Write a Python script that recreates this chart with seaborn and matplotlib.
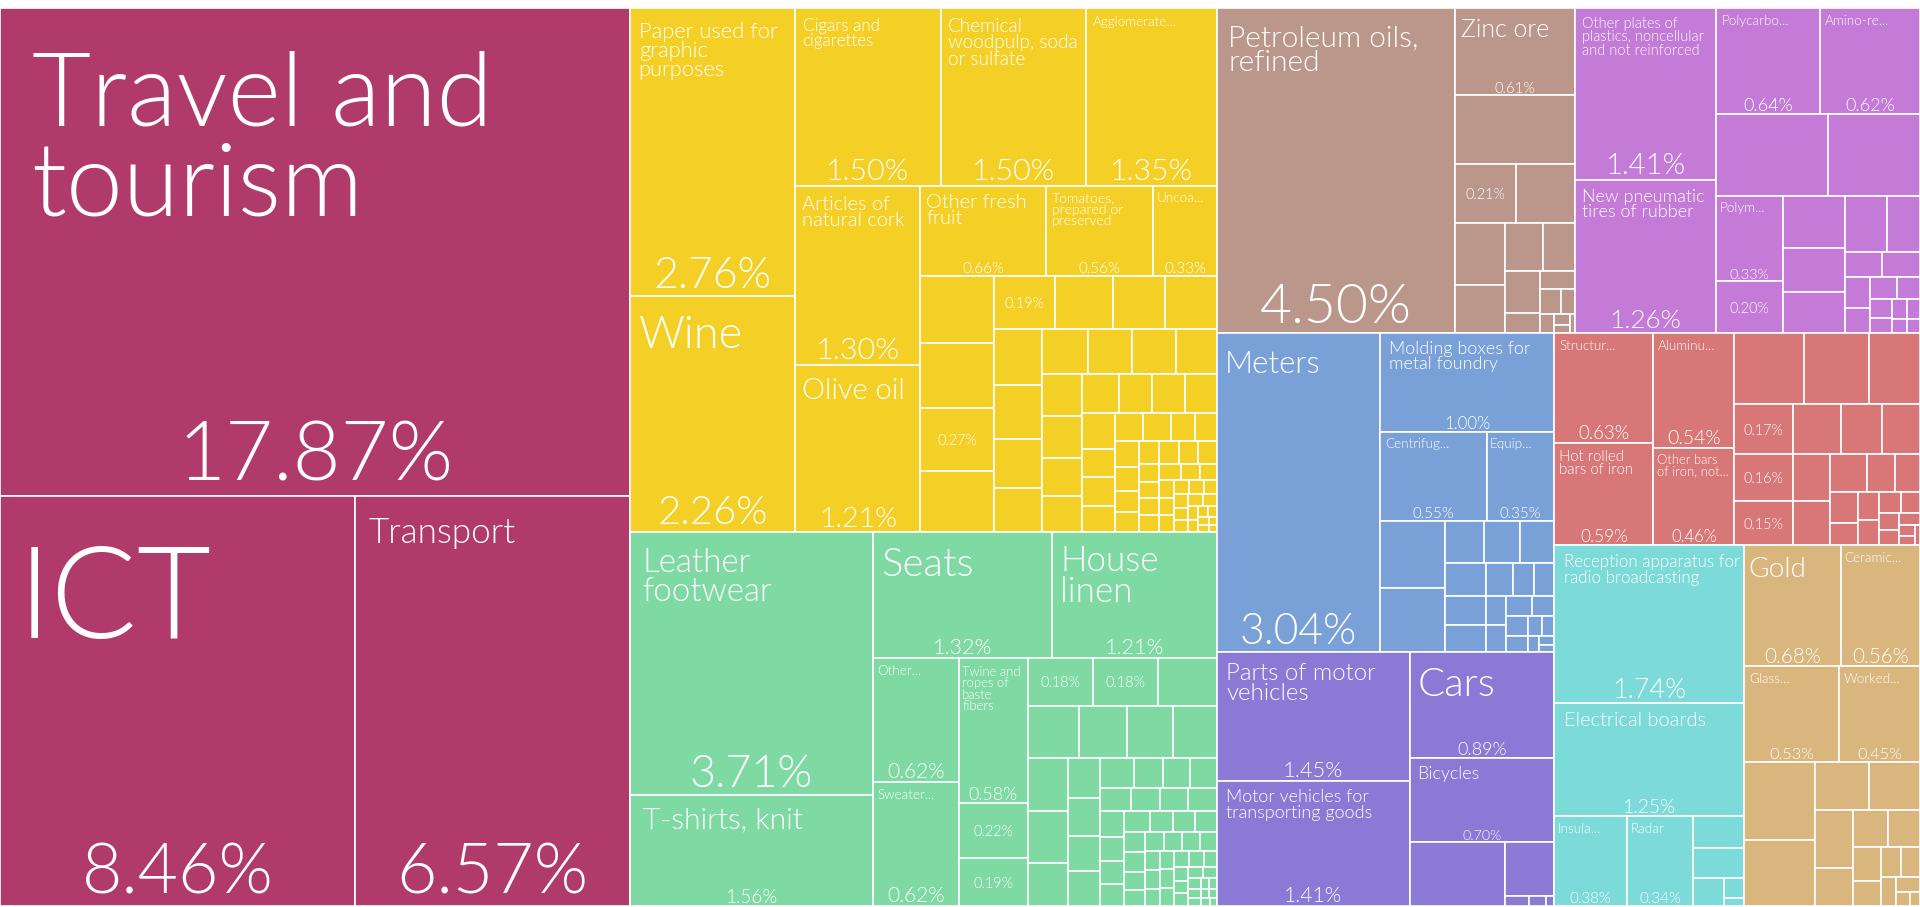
# -*- coding: utf-8 -*-
"""
Export treemap — share of total exports by product, grouped by sector.

Layout is a port of d3's squarified treemap (plain squarify, ratio 1),
drawn with matplotlib rectangles on a seaborn-styled figure.  Saves out.png.
"""

import numpy as np
import pandas as pd
import matplotlib
matplotlib.use("Agg")
import matplotlib.pyplot as plt
from matplotlib.patches import Rectangle
from matplotlib.font_manager import FontProperties, fontManager
import seaborn as sns

# ── Data (share of exports, %) ────────────────────────────────────────────────
# *_labels/*_values : tiles that carry a name and a percentage
# *_pct_only        : tiles that only show their percentage
# *_other           : small tiles without any text

services_labels = ["Travel and tourism", "ICT", "Transport"]
services_values = [17.87, 8.46, 6.57]

agri_labels = ["Paper used for graphic purposes", "Wine", "Cigars and cigarettes",
               "Chemical woodpulp, soda or sulfate", "Agglomerate...",
               "Articles of natural cork", "Olive oil", "Other fresh fruit",
               "Tomatoes, prepared or preserved", "Uncoa..."]
agri_values = [2.76, 2.26, 1.50, 1.50, 1.35, 1.30, 1.21, 0.66, 0.56, 0.33]
agri_pct_only = [0.27, 0.19]
agri_other = [0.29, 0.28, 0.26, 0.18, 0.16, 0.16, 0.155, 0.15, 0.135, 0.12,
              0.12, 0.115, 0.115, 0.105, 0.10, 0.10, 0.09, 0.085, 0.083, 0.074,
              0.073, 0.072, 0.069, 0.055, 0.055, 0.049, 0.046, 0.046, 0.038,
              0.036, 0.036, 0.032, 0.028, 0.027, 0.027, 0.027, 0.025, 0.024,
              0.022, 0.02, 0.02, 0.02, 0.02, 0.018, 0.016, 0.015, 0.015, 0.014,
              0.013, 0.012, 0.011, 0.011, 0.01, 0.01, 0.01, 0.009, 0.008,
              0.007, 0.006, 0.005, 0.005, 0.004, 0.004, 0.003]

textile_labels = ["Leather footwear", "T-shirts, knit", "Seats", "House linen",
                  "Other...", "Sweater...", "Twine and ropes of baste fibers"]
textile_values = [3.71, 1.56, 1.32, 1.21, 0.62, 0.62, 0.58]
textile_pct_only = [0.22, 0.19, 0.18, 0.18]
textile_other = [0.16, 0.155, 0.145, 0.14, 0.13, 0.125, 0.12, 0.10, 0.078,
                 0.071, 0.068, 0.066, 0.059, 0.05, 0.048, 0.046, 0.042, 0.041,
                 0.039, 0.039, 0.035, 0.034, 0.032, 0.03, 0.03, 0.028,
                 0.026, 0.025, 0.025, 0.024, 0.022, 0.02, 0.02, 0.02, 0.02,
                 0.018, 0.017, 0.016, 0.015, 0.015, 0.015, 0.015, 0.014, 0.013,
                 0.012, 0.011, 0.01, 0.01, 0.01, 0.009, 0.008, 0.007, 0.006,
                 0.005, 0.005, 0.005, 0.004, 0.004, 0.003]

mineral_labels = ["Petroleum oils, refined", "Zinc ore"]
mineral_values = [4.50, 0.61]
mineral_pct_only = [0.21]
mineral_other = [0.48, 0.20, 0.18, 0.14, 0.107, 0.09, 0.086, 0.04, 0.036, 0.03,
                 0.02, 0.015, 0.01, 0.008, 0.005]

chem_labels = ["Other plates of plastics, noncellular and not reinforced",
               "New pneumatic tires of rubber", "Polycarbo...", "Amino-re...",
               "Polym..."]
chem_values = [1.41, 1.26, 0.64, 0.62, 0.33]
chem_pct_only = [0.20]
chem_other = [0.53, 0.44, 0.187, 0.158, 0.147, 0.136, 0.107, 0.054, 0.054,
              0.045, 0.036, 0.035, 0.03, 0.025, 0.02, 0.018, 0.015, 0.012, 0.01]

machine_labels = ["Meters", "Molding boxes for metal foundry", "Centrifug...",
                  "Equip..."]
machine_values = [3.04, 1.00, 0.55, 0.35]
machine_pct_only = []
machine_other = [0.25, 0.24, 0.097, 0.087, 0.085, 0.08, 0.068, 0.066, 0.052,
                 0.04, 0.038, 0.035, 0.032, 0.03, 0.027, 0.024, 0.02, 0.017,
                 0.014, 0.011, 0.008, 0.006]

vehicle_labels = ["Parts of motor vehicles", "Motor vehicles for transporting goods",
                  "Cars", "Bicycles"]
vehicle_values = [1.45, 1.41, 0.89, 0.70]
vehicle_pct_only = []
vehicle_other = [0.35, 0.155, 0.015, 0.01, 0.005]

metal_labels = ["Structur...", "Hot rolled bars of iron", "Aluminu...",
                "Other bars of iron, not..."]
metal_values = [0.63, 0.59, 0.54, 0.46]
metal_pct_only = [0.17, 0.16, 0.15]
metal_other = [0.29, 0.27, 0.21, 0.14, 0.12, 0.11, 0.10, 0.095, 0.08, 0.06,
               0.054, 0.052, 0.036, 0.035, 0.03, 0.027, 0.024, 0.02, 0.017,
               0.014, 0.011, 0.008, 0.006]

electro_labels = ["Reception apparatus for radio broadcasting",
                  "Electrical boards", "Insula...", "Radar"]
electro_values = [1.74, 1.25, 0.38, 0.34]
electro_pct_only = []
electro_other = [0.095, 0.089, 0.05, 0.023, 0.01]

stone_labels = ["Gold", "Ceramic...", "Glass...", "Worked..."]
stone_values = [0.68, 0.56, 0.53, 0.45]
stone_pct_only = []
stone_other = [0.32, 0.27, 0.15, 0.14, 0.13, 0.086, 0.077, 0.069, 0.056, 0.04,
               0.035, 0.033, 0.025, 0.02, 0.012, 0.008]

sectors = ["Services", "Agriculture", "Textiles", "Minerals", "Chemicals",
           "Machinery", "Vehicles", "Metals", "Electronics", "Stone"]

# ── Style ─────────────────────────────────────────────────────────────────────
SECTOR_COLORS = ["#b03b6b", "#f4cf25", "#7ed9a3", "#ba978a", "#c47ad7",
                 "#79a1d8", "#8a7ad6", "#d87777", "#7cdad9", "#d9b67e"]

# light sans faces, in order of preference (the reference uses a light grotesque)
FONT_CANDIDATES = ["Source Sans Pro", "Source Sans 3", "Lato", "Roboto",
                   "Open Sans", "Noto Sans", "Inter"]
DPI = 100
W_PX, H_PX = 1920, 907
AREA = (0, 8, 1920, 906)          # treemap extent in pixels (x0, y0, x1, y1)
RATIO = 1.0                       # squarify target aspect ratio

# name label sizes in pixels (fitted sizes as shown); others use the default
NAME_PX = {
    "Travel and tourism": 102, "ICT": 128, "Transport": 35,
    "Paper used for graphic purposes": 22, "Wine": 45,
    "Cigars and cigarettes": 17, "Chemical woodpulp, soda or sulfate": 19,
    "Articles of natural cork": 20, "Olive oil": 29, "Other fresh fruit": 20,
    "Tomatoes, prepared or preserved": 14,
    "Leather footwear": 33, "T-shirts, knit": 30, "Seats": 40,
    "House linen": 35, "Twine and ropes of baste fibers": 13,
    "Petroleum oils, refined": 30, "Zinc ore": 25,
    "Other plates of plastics, noncellular and not reinforced": 14.5,
    "New pneumatic tires of rubber": 18,
    "Meters": 31, "Molding boxes for metal foundry": 18,
    "Parts of motor vehicles": 24, "Motor vehicles for transporting goods": 18,
    "Cars": 40, "Bicycles": 18,
    "Hot rolled bars of iron": 15, "Other bars of iron, not...": 13,
    "Reception apparatus for radio broadcasting": 17, "Electrical boards": 20,
    "Gold": 28,
}
DEFAULT_NAME_PX = 13.5


# ── Helpers ───────────────────────────────────────────────────────────────────

def pick_font():
    """First candidate family that has a real 300-weight face, else Lato."""
    faces = {(f.name, str(f.weight), f.style) for f in fontManager.ttflist}
    for fam in FONT_CANDIDATES:
        if (fam, "300", "normal") in faces or (fam, "light", "normal") in faces:
            return fam, 300
    return "Lato", "normal"


FONT, WEIGHT = pick_font()


def build_frame():
    parts = [
        (services_labels, services_values, [], []),
        (agri_labels, agri_values, agri_pct_only, agri_other),
        (textile_labels, textile_values, textile_pct_only, textile_other),
        (mineral_labels, mineral_values, mineral_pct_only, mineral_other),
        (chem_labels, chem_values, chem_pct_only, chem_other),
        (machine_labels, machine_values, machine_pct_only, machine_other),
        (vehicle_labels, vehicle_values, vehicle_pct_only, vehicle_other),
        (metal_labels, metal_values, metal_pct_only, metal_other),
        (electro_labels, electro_values, electro_pct_only, electro_other),
        (stone_labels, stone_values, stone_pct_only, stone_other),
    ]
    rows = []
    for sector, (labels, values, pct_only, other) in zip(sectors, parts):
        rows += [(sector, l, v, "named") for l, v in zip(labels, values)]
        rows += [(sector, "", v, "pct") for v in pct_only]
        rows += [(sector, "", v, "none") for v in other]
    return pd.DataFrame(rows, columns=["sector", "label", "value", "kind"])


def squarify(values, x0, y0, x1, y1, ratio=RATIO):
    """d3.treemapSquarify for one level; values must be sorted descending."""
    rects = [None] * len(values)
    total = float(sum(values))
    n = len(values)
    i0 = i1 = 0
    while i0 < n:
        dx, dy = x1 - x0, y1 - y0
        sum_v = values[i1]
        i1 += 1
        min_v = max_v = sum_v
        alpha = max(dy / dx, dx / dy) / (total * ratio)
        beta = sum_v * sum_v * alpha
        min_ratio = max(max_v / beta, beta / min_v)
        while i1 < n:
            v = values[i1]
            sum_v += v
            min_v, max_v = min(min_v, v), max(max_v, v)
            beta = sum_v * sum_v * alpha
            new_ratio = max(max_v / beta, beta / min_v)
            if new_ratio > min_ratio:
                sum_v -= v
                break
            min_ratio = new_ratio
            i1 += 1
        if dx < dy:                      # dice: a row across the top
            yb = y0 + dy * sum_v / total
            xx = x0
            for k in range(i0, i1):
                w = dx * values[k] / sum_v
                rects[k] = (xx, y0, xx + w, yb)
                xx += w
            y0 = yb
        else:                            # slice: a column on the left
            xb = x0 + dx * sum_v / total
            yy = y0
            for k in range(i0, i1):
                h = dy * values[k] / sum_v
                rects[k] = (x0, yy, xb, yy + h)
                yy += h
            x0 = xb
        total -= sum_v
        i0 = i1
    return rects


def layout(df):
    totals = (df.groupby("sector", sort=False)["value"].sum()
                .sort_values(ascending=False, kind="stable"))
    sector_rects = squarify(list(totals.values), *AREA)
    out = []
    for (sector, _), rect in zip(totals.items(), sector_rects):
        leaves = (df[df["sector"] == sector]
                  .sort_values("value", ascending=False, kind="stable"))
        for (_, leaf), r in zip(leaves.iterrows(), squarify(list(leaves["value"]), *rect)):
            out.append({**leaf.to_dict(), "x0": r[0], "y0": r[1], "x1": r[2], "y1": r[3]})
    return pd.DataFrame(out)


def font(px):
    return FontProperties(family=FONT, weight=WEIGHT, size=px * 72 / DPI)


def text_w(renderer, s, px):
    w, _, _ = renderer.get_text_width_height_descent(s, font(px), ismath=False)
    return w


def wrap(renderer, label, px, maxw):
    words = label.split()
    lines = [words[0]]
    for word in words[1:]:
        trial = lines[-1] + " " + word
        if text_w(renderer, trial, px) <= maxw:
            lines[-1] = trial
        else:
            lines.append(word)
    return "\n".join(lines)


# ── Main ──────────────────────────────────────────────────────────────────────

def main():
    sns.set_theme(style="white")
    plt.rcParams["font.family"] = [FONT, "DejaVu Sans"]

    palette = dict(zip(sectors, sns.color_palette(SECTOR_COLORS)))
    tiles = layout(build_frame())

    fig = plt.figure(figsize=(W_PX / DPI, H_PX / DPI), dpi=DPI)
    ax = fig.add_axes([0, 0, 1, 1])
    ax.set_xlim(0, W_PX)
    ax.set_ylim(H_PX, 0)
    ax.axis("off")
    renderer = fig.canvas.get_renderer()

    for t in tiles.itertuples():
        w, h = t.x1 - t.x0, t.y1 - t.y0
        ax.add_patch(Rectangle((t.x0, t.y0), w, h, facecolor=palette[t.sector],
                               edgecolor="white", linewidth=1.2))
        if t.kind == "none":
            continue
        pct = f"{t.value:.2f}%"
        pct_px = max(min(0.17 * h, 0.26 * w), 14)
        if t.kind == "pct":
            ax.text((t.x0 + t.x1) / 2, (t.y0 + t.y1) / 2, pct, color="white",
                    fontproperties=font(14.5), ha="center", va="center_baseline")
            continue
        name_px = NAME_PX.get(t.label, DEFAULT_NAME_PX)
        pad_x = 0.05 * w
        pad_y = 0.3 * name_px + 0.025 * h
        txt = wrap(renderer, t.label, name_px, w - pad_x - 2)
        ax.text(t.x0 + pad_x, t.y0 + pad_y, txt, color="white",
                fontproperties=font(name_px), ha="left", va="top",
                linespacing=0.95)
        ax.text((t.x0 + t.x1) / 2, t.y1 - 0.18 * pct_px, pct, color="white",
                fontproperties=font(pct_px), ha="center", va="baseline")

    fig.savefig("out.png", dpi=DPI, facecolor="white")
    plt.close(fig)


if __name__ == "__main__":
    main()
